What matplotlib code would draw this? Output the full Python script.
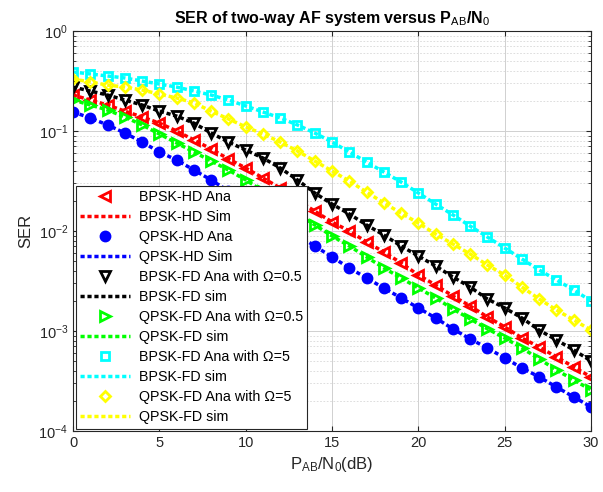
import matplotlib
matplotlib.use('Agg')
import matplotlib.pyplot as plt
import numpy as np

plt.rcParams['font.family'] = ['Liberation Sans', 'DejaVu Sans']
plt.rcParams['mathtext.fontset'] = 'custom'
plt.rcParams['mathtext.rm'] = 'Liberation Sans'
plt.rcParams['mathtext.it'] = 'Liberation Sans'
plt.rcParams['mathtext.bf'] = 'Liberation Sans:bold'

# SNR axis (dB)
snr_db = list(range(0, 31))

# values (SER)
bpsk_hd_ana = [0.229, 0.204, 0.182, 0.158, 0.138, 0.120, 0.100, 0.0813, 0.0661, 0.0525,
               0.0427, 0.0339, 0.0269, 0.0204, 0.0158, 0.0123, 0.0100, 0.00776, 0.00617, 0.00479,
               0.00363, 0.00288, 0.00224, 0.00178, 0.00138, 0.00110, 0.000851, 0.000692, 0.000550,
               0.000437, 0.000347]
qpsk_hd_ana = [0.155, 0.135, 0.115, 0.0955, 0.0776, 0.0617, 0.0513, 0.0407, 0.0324, 0.0251,
               0.0195, 0.0151, 0.0117, 0.00912, 0.00708, 0.00550, 0.00427, 0.00339, 0.00269, 0.00214,
               0.00170, 0.00135, 0.00105, 0.000832, 0.000676, 0.000537, 0.000427, 0.000347, 0.000275,
               0.000219, 0.000174]
bpsk_fd05_ana = [0.275, 0.251, 0.229, 0.204, 0.182, 0.158, 0.141, 0.120, 0.0955, 0.0776,
                 0.0646, 0.0537, 0.0427, 0.0324, 0.0240, 0.0186, 0.0148, 0.0115, 0.00912, 0.00708,
                 0.00562, 0.00447, 0.00347, 0.00275, 0.00209, 0.00170, 0.00135, 0.00102, 0.000813,
                 0.000646, 0.000501]
qpsk_fd05_ana = [0.204, 0.182, 0.162, 0.138, 0.115, 0.0933, 0.0759, 0.0617, 0.0501, 0.0407,
                 0.0324, 0.0251, 0.0195, 0.0148, 0.0115, 0.00891, 0.00708, 0.00550, 0.00427, 0.00339,
                 0.00269, 0.00214, 0.00166, 0.00132, 0.00105, 0.000851, 0.000676, 0.000525, 0.000407,
                 0.000324, 0.000257]
bpsk_fd5_ana = [0.389, 0.372, 0.355, 0.339, 0.316, 0.295, 0.275, 0.251, 0.229, 0.204,
                0.178, 0.155, 0.135, 0.115, 0.0955, 0.0776, 0.0617, 0.0490, 0.0389, 0.0309,
                0.0240, 0.0186, 0.0145, 0.0112, 0.00871, 0.00676, 0.00525, 0.00407, 0.00324,
                0.00257, 0.00200]
qpsk_fd5_ana = [0.331, 0.309, 0.288, 0.275, 0.257, 0.234, 0.214, 0.191, 0.158, 0.132,
                0.110, 0.0933, 0.0776, 0.0631, 0.0501, 0.0398, 0.0316, 0.0245, 0.0191, 0.0151,
                0.0120, 0.00933, 0.00741, 0.00589, 0.00457, 0.00363, 0.00275, 0.00209, 0.00162,
                0.00129, 0.00102]

# simulated curves sit on top of the analytical ones
bpsk_hd_sim = bpsk_hd_ana
qpsk_hd_sim = qpsk_hd_ana
bpsk_fd05_sim = bpsk_fd05_ana
qpsk_fd05_sim = qpsk_fd05_ana
bpsk_fd5_sim = bpsk_fd5_ana
qpsk_fd5_sim = qpsk_fd5_ana

fig = plt.figure(figsize=(6.03, 4.92), dpi=100)
ax = fig.add_axes([73/603, 1-431/492, 518/603, 400/492])

dot = (0, (1.2, 0.8))
mew = 2.0
ms = 6.5

ax.semilogy(snr_db, bpsk_hd_ana, '<', color='red', mfc='none', mew=mew, ms=ms, ls='none', label='BPSK-HD Ana')
ax.semilogy(snr_db, bpsk_hd_sim, color='red', ls=dot, lw=2.5, label='BPSK-HD Sim')
ax.semilogy(snr_db, qpsk_hd_ana, 'o', color='blue', mfc='blue', mew=mew, ms=ms, ls='none', label='QPSK-HD Ana')
ax.semilogy(snr_db, qpsk_hd_sim, color='blue', ls=dot, lw=2.5, label='QPSK-HD Sim')
ax.semilogy(snr_db, bpsk_fd05_ana, 'v', color='black', mfc='none', mew=mew, ms=ms, ls='none',
            label='BPSK-FD Ana with \u03a9=0.5')
ax.semilogy(snr_db, bpsk_fd05_sim, color='black', ls=dot, lw=2.5, label='BPSK-FD sim')
ax.semilogy(snr_db, qpsk_fd05_ana, '>', color='#00ff00', mfc='none', mew=mew, ms=ms, ls='none',
            label='QPSK-FD Ana with \u03a9=0.5')
ax.semilogy(snr_db, qpsk_fd05_sim, color='#00ff00', ls=dot, lw=2.5, label='QPSK-FD sim')
ax.semilogy(snr_db, bpsk_fd5_ana, 's', color='cyan', mfc='none', mew=mew, ms=5.5, ls='none',
            label='BPSK-FD Ana with \u03a9=5')
ax.semilogy(snr_db, bpsk_fd5_sim, color='cyan', ls=dot, lw=2.5, label='BPSK-FD sim')
ax.semilogy(snr_db, qpsk_fd5_ana, 'D', color='yellow', mfc='none', mew=mew, ms=5.5, ls='none',
            label='QPSK-FD Ana with \u03a9=5')
ax.semilogy(snr_db, qpsk_fd5_sim, color='yellow', ls=dot, lw=2.5, label='QPSK-FD sim')

ax.set_xlim(0, 30)
ax.set_ylim(1e-4, 1)
ax.set_xticks([0, 5, 10, 15, 20, 25, 30])
ax.grid(True, which='major', color='#d0d0d0', lw=0.7)
ax.grid(True, which='minor', color='#d8d8d8', lw=0.6, ls=(0, (2, 2)))
ax.tick_params(which='both', direction='in', top=True, right=True, colors='#262626', labelsize=10.5)
for s in ax.spines.values():
    s.set_color('#262626')
    s.set_linewidth(0.8)

ax.set_title('SER of two-way AF system versus P$_{AB}$/N$_0$', fontsize=11.5, fontweight='bold', pad=6)
ax.set_xlabel('P$_{AB}$/N$_0$(dB)', fontsize=12, color='#262626')
ax.set_ylabel('SER', fontsize=12, color='#262626')

leg = ax.legend(loc='lower left', bbox_to_anchor=(0.006, 0.006), borderaxespad=0, fontsize=10.3,
                handlelength=3.5, labelspacing=0.42, fancybox=False, framealpha=1,
                edgecolor='#262626', borderpad=0.3, handletextpad=0.6)
leg.get_frame().set_linewidth(0.8)

fig.savefig('out.png', dpi=100)
